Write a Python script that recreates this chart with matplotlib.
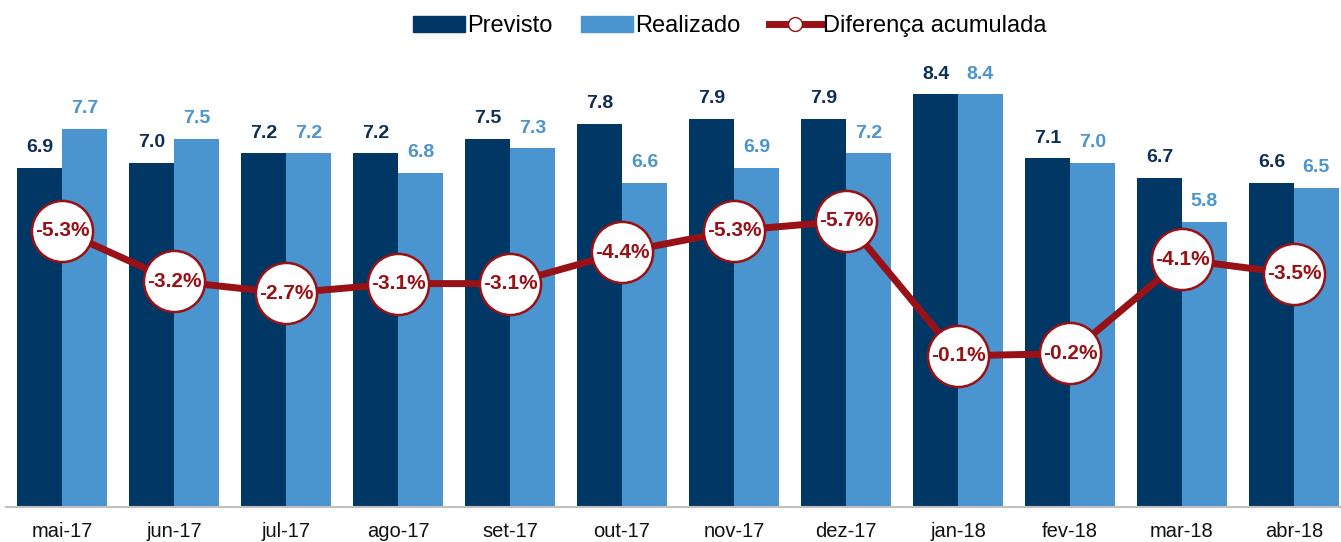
import numpy as np
import matplotlib.pyplot as plt
from matplotlib.patches import Patch
from matplotlib.lines import Line2D

plt.rcParams['font.family'] = ['Liberation Sans', 'DejaVu Sans']

# dados
meses = ['mai-17', 'jun-17', 'jul-17', 'ago-17', 'set-17', 'out-17',
         'nov-17', 'dez-17', 'jan-18', 'fev-18', 'mar-18', 'abr-18']
previsto = [6.9, 7.0, 7.2, 7.2, 7.5, 7.8, 7.9, 7.9, 8.4, 7.1, 6.7, 6.6]
realizado = [7.7, 7.5, 7.2, 6.8, 7.3, 6.6, 6.9, 7.2, 8.4, 7.0, 5.8, 6.5]
diferenca = [-5.3, -3.2, -2.7, -3.1, -3.1, -4.4, -5.3, -5.7, -0.1, -0.2, -4.1, -3.5]

COR_PREV = '#003764'
COR_REAL = '#4a94d0'
COR_LINHA = '#981116'

fig = plt.figure(figsize=(13.41, 5.42), dpi=100)
ax = fig.add_axes([6 / 1341, 35 / 542, 1335 / 1341, 442 / 542])

x = np.arange(len(meses))
w = 0.40
b1 = ax.bar(x - w / 2, previsto, w, color=COR_PREV, label='Previsto')
b2 = ax.bar(x + w / 2, realizado, w, color=COR_REAL, label='Realizado')

for xi, v in zip(x, previsto):
    ax.text(xi - w / 2, v + 0.24, f'{v:.1f}', ha='center', va='bottom',
            fontsize=14, fontweight='bold', color='#0d2f57')
for xi, v in zip(x, realizado):
    ax.text(xi + w / 2, v + 0.24, f'{v:.1f}', ha='center', va='bottom',
            fontsize=14, fontweight='bold', color=COR_REAL)

ax.set_xlim(-0.5, 11.42)
ax.set_ylim(0, 9.0)
ax.set_xticks(x)
ax.set_xticklabels(meses, fontsize=14.5, color='#111111')
ax.tick_params(axis='x', length=0, pad=11)
ax.set_yticks([])
for s in ['top', 'right', 'left']:
    ax.spines[s].set_visible(False)
ax.spines['bottom'].set_color('#bfbfbf')
ax.spines['bottom'].set_linewidth(1.5)

# linha da diferenca acumulada (eixo secundario invertido)
ax2 = ax.twinx()
ax2.plot(x, diferenca, color=COR_LINHA, lw=5, marker='o', markersize=44,
         markerfacecolor='white', markeredgecolor=COR_LINHA, markeredgewidth=1.8)
for xi, v in zip(x, diferenca):
    ax2.text(xi, v, f'{v:.1f}%', ha='center', va='center', fontsize=15,
             fontweight='bold', color=COR_LINHA)
ax2.set_ylim(6.17, -12.17)
ax2.set_yticks([])
for s in ['top', 'right', 'left', 'bottom']:
    ax2.spines[s].set_visible(False)

handles = [Patch(color=COR_PREV), Patch(color=COR_REAL),
           Line2D([], [], color=COR_LINHA, lw=5, marker='o', markersize=10,
                  markerfacecolor='white', markeredgecolor=COR_LINHA)]
fig.legend(handles, ['Previsto', 'Realizado', 'Diferença acumulada'],
           loc='center', bbox_to_anchor=(730 / 1341, 1 - 26 / 542), ncol=3,
           frameon=False, fontsize=17, handlelength=2.2, handleheight=0.65,
           handletextpad=0.1, columnspacing=1.2, borderpad=0)

fig.savefig('out.png', dpi=100)
